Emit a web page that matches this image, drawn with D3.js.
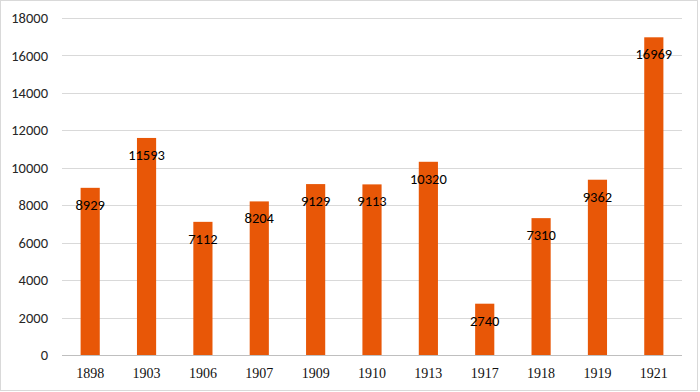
<!DOCTYPE html>
<html>
<head>
<meta charset="utf-8">
<script src="https://cdn.jsdelivr.net/npm/d3@7"></script>
<style>
  body { margin: 0; background: #fff; }
</style>
</head>
<body>
<svg id="chart"></svg>
<script>
const years = ["1898", "1903", "1906", "1907", "1909", "1910", "1913", "1917", "1918", "1919", "1921"];
const values = [8929, 11593, 7112, 8204, 9129, 9113, 10320, 2740, 7310, 9362, 16969];
const yTicks = [0, 2000, 4000, 6000, 8000, 10000, 12000, 14000, 16000, 18000];

const width = 700, height = 392;
const margin = {top: 18, right: 18, bottom: 37, left: 62};
const innerW = 682 - margin.left;
const innerH = 355 - margin.top;

const svg = d3.select("#chart").attr("width", width).attr("height", height);

// outer frame
svg.append("rect")
  .attr("x", 0.5).attr("y", 0.5)
  .attr("width", 697).attr("height", 390)
  .attr("fill", "#fff").attr("stroke", "#d9d9d9");

const chart = svg.append("g").attr("transform", `translate(${margin.left},${margin.top})`);

const x = d3.scaleBand().domain(years).range([0, innerW]).paddingInner(0.66).paddingOuter(0.33);
const y = d3.scaleLinear().domain([0, 18000]).range([innerH, 0]);

// gridlines
chart.append("g")
  .selectAll("line")
  .data(yTicks)
  .join("line")
  .attr("x1", 0).attr("x2", innerW)
  .attr("y1", d => Math.round(y(d)) + 0.5).attr("y2", d => Math.round(y(d)) + 0.5)
  .attr("stroke", d => d === 0 ? "#bfbfbf" : "#d9d9d9")
  .attr("stroke-width", 1);

// y tick labels
chart.append("g")
  .selectAll("text")
  .data(yTicks)
  .join("text")
  .attr("x", -14)
  .attr("y", d => y(d))
  .attr("dy", "0.35em")
  .attr("text-anchor", "end")
  .attr("font-family", "Carlito, 'Open Sans', 'Liberation Sans', sans-serif")
  .attr("font-size", "14.5px")
  .attr("fill", "#262626")
  .text(d => d);

// bars
chart.append("g")
  .selectAll("rect")
  .data(values)
  .join("rect")
  .attr("x", (d, i) => x(years[i]))
  .attr("y", d => y(d))
  .attr("width", x.bandwidth())
  .attr("height", d => innerH - y(d))
  .attr("fill", "#e85707");

// value labels
chart.append("g")
  .selectAll("text")
  .data(values)
  .join("text")
  .attr("x", (d, i) => x(years[i]) + x.bandwidth() / 2)
  .attr("y", d => y(d) + 17)
  .attr("dy", "0.35em")
  .attr("text-anchor", "middle")
  .attr("font-family", "Carlito, 'Open Sans', 'Liberation Sans', sans-serif")
  .attr("font-size", "14.5px")
  .attr("fill", "#000")
  .text(d => d);

// x labels
chart.append("g")
  .selectAll("text")
  .data(years)
  .join("text")
  .attr("x", d => x(d) + x.bandwidth() / 2)
  .attr("y", innerH + 18)
  .attr("dy", "0.35em")
  .attr("text-anchor", "middle")
  .attr("font-family", "'Liberation Serif', 'DejaVu Serif', serif")
  .attr("font-size", "14px")
  .attr("fill", "#111")
  .text(d => d);
</script>
</body>
</html>
